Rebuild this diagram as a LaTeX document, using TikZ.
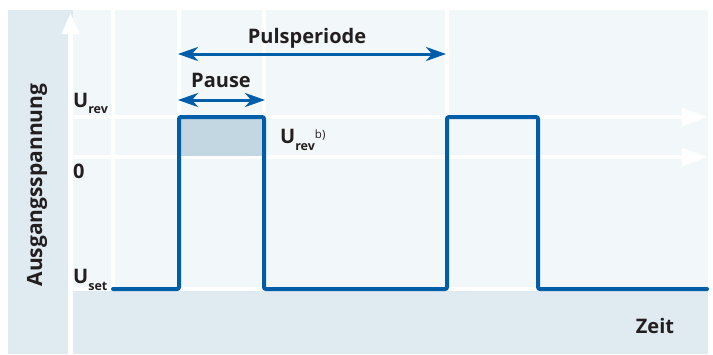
\documentclass[tikz,border=0pt]{standalone}
\usepackage{fontspec}
\setmainfont{Open Sans}
\usetikzlibrary{arrows.meta}
\definecolor{band}{RGB}{224,234,241}
\definecolor{plotbg}{RGB}{242,247,249}
\definecolor{pblue}{RGB}{0,94,168}
\definecolor{shadefill}{RGB}{195,215,227}
\definecolor{ink}{RGB}{35,31,32}
\newcommand\lowsub[2]{\raisebox{-#1}{\fontsize{12.5}{13}\selectfont #2}}
\begin{document}
\begin{tikzpicture}[x=1pt,y=-1pt,
  lab/.style={font=\fontsize{20}{24}\selectfont\bfseries, text=ink, inner sep=0pt},
  gridline/.style={white, line width=4pt},
  axisarrow/.style={white, line width=4pt, -{Triangle[length=25pt,width=18pt]}},
  pulse/.style={pblue, line width=4pt, rounded corners=2pt, line cap=round},
  dimarrow/.style={pblue, line width=3pt, {Stealth[length=20pt,width=14pt,inset=6pt]}-{Stealth[length=20pt,width=14pt,inset=6pt]}}
]
\useasboundingbox (0,0) rectangle (713,354);
% backgrounds
\fill[band] (8,10) rectangle (708,354);
\fill[plotbg] (73,10) rectangle (708,289);
% grid
\draw[gridline] (113,10) -- (113,289);
\draw[gridline] (179,10) -- (179,289);
\draw[gridline] (264,10) -- (264,289);
\draw[gridline] (447,10) -- (447,289);
\draw[gridline] (71,289) -- (708,289);
\coordinate (yb) at (70.5,354);
\coordinate (yt) at (70.5,13);
\draw[white, line width=4.5pt, -{Triangle[length=21pt,width=17pt]}] (yb) -- (yt);
\coordinate (r1a) at (72,117);
\coordinate (r1b) at (707,117);
\coordinate (r0a) at (72,157);
\coordinate (r0b) at (707,157);
\draw[axisarrow] (r1a) -- (r1b);
\draw[axisarrow] (r0a) -- (r0b);
% shaded area
\fill[shadefill] (179,117) rectangle (264,156);
% pulse
\draw[pulse] (113,289) -- (179,289) -- (179,117) -- (264,117) -- (264,289) -- (447,289) -- (447,117) -- (538,117) -- (538,289) -- (707,289);
% dimension arrows
\coordinate (pa) at (178,100);
\coordinate (pb) at (265,100);
\coordinate (qa) at (178,54);
\coordinate (qb) at (446,54);
\draw[dimarrow] (pa) -- (pb);
\draw[dimarrow] (qa) -- (qb);
% labels
\node[lab, anchor=base] (tper) at (307,43) {Pulsperiode};
\node[lab, anchor=base] (tpause) at (221,87) {Pause};
\node[lab, anchor=base west] (turev) at (73,107) {U\lowsub{6pt}{rev}};
\node[lab, anchor=base west] (tzero) at (73,178) {0};
\node[lab, anchor=base west] (tuset) at (73,283) {U\lowsub{7pt}{set}};
\node[lab, anchor=base west] (turevb) at (280,143) {U\lowsub{7pt}{rev}\raisebox{5pt}{\fontsize{11.5}{12}\selectfont\mdseries b)}};
\node[lab, anchor=base] (tzeit) at (655,333) {Zeit};
\node[lab, font=\fontsize{21}{24}\selectfont\bfseries, anchor=base, rotate=90] (tausg) at (42,185) {Ausgangsspannung};
\end{tikzpicture}
\end{document}
